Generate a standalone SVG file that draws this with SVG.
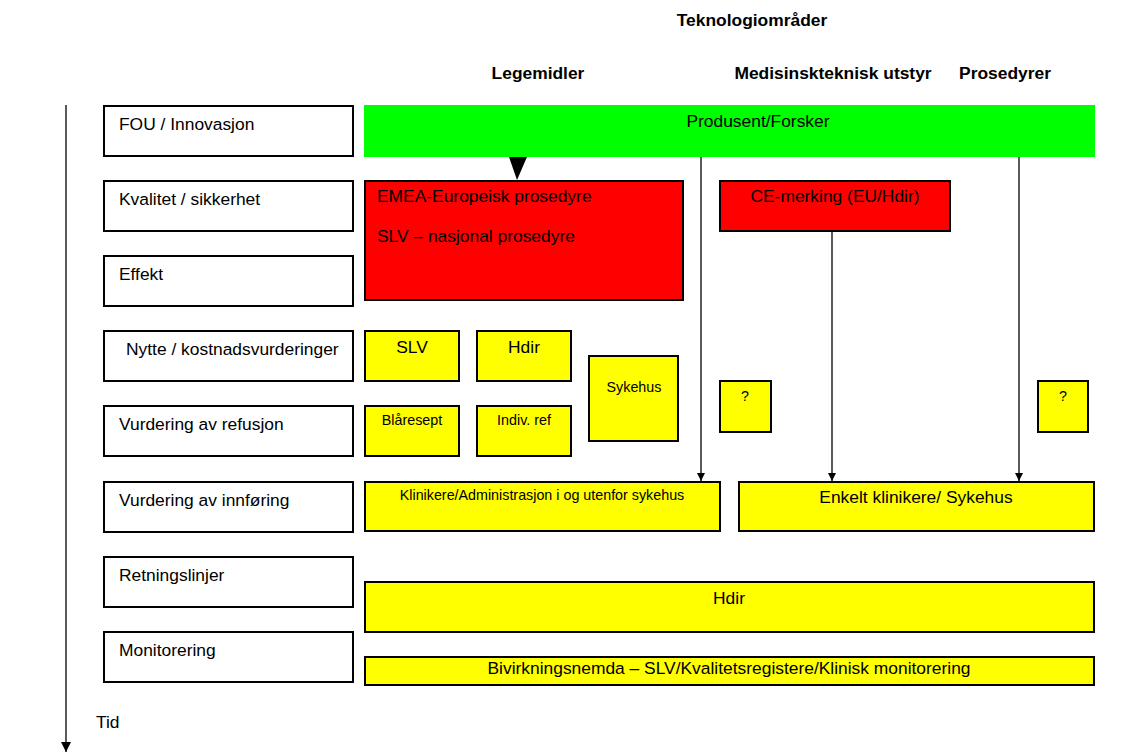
<svg xmlns="http://www.w3.org/2000/svg" width="1140" height="754" viewBox="0 0 1140 754">
<defs>
<style>
text{font-family:"Liberation Sans",Arial,sans-serif;fill:#000}
.lab{font-size:17.4px}
.hd{font-size:17.4px;font-weight:bold}
.sm{font-size:14.3px}
.box{fill:#fff;stroke:#000;stroke-width:2}
.red{fill:#ff0000;stroke:#000;stroke-width:2}
.yel{fill:#ffff00;stroke:#000;stroke-width:2}
.ln{stroke:#000;stroke-width:1.3;fill:none}
</style>
<marker id="ah" viewBox="0 0 10 10" refX="10" refY="5" markerWidth="8" markerHeight="8" markerUnits="userSpaceOnUse" orient="auto">
<path d="M0,0 L10,5 L0,10 z" fill="#000"/>
</marker>
<marker id="ah2" viewBox="0 0 10 10" refX="10" refY="5" markerWidth="10" markerHeight="10" markerUnits="userSpaceOnUse" orient="auto">
<path d="M0,0 L10,5 L0,10 z" fill="#000"/>
</marker>
</defs>
<rect width="1140" height="754" fill="#fff"/>

<g id="headers">
<text class="hd" x="752" y="26" text-anchor="middle">Teknologiområder</text>
<text class="hd" x="538" y="79" text-anchor="middle">Legemidler</text>
<text class="hd" x="833" y="79" text-anchor="middle">Medisinskteknisk utstyr</text>
<text class="hd" x="1005" y="79" text-anchor="middle">Prosedyrer</text>
</g>

<g id="connectors">
<line class="ln" x1="66" y1="105" x2="66" y2="752" marker-end="url(#ah2)"/>
<polygon points="509,157 527,157 517,180" fill="#000"/>
<line class="ln" x1="701" y1="157" x2="701" y2="481" marker-end="url(#ah)"/>
<line class="ln" x1="832" y1="231" x2="832" y2="481" marker-end="url(#ah)"/>
<line class="ln" x1="1019" y1="157" x2="1019" y2="481" marker-end="url(#ah)"/>
</g>

<g id="tid"><text class="lab" x="96" y="728">Tid</text></g>

<g id="row-fou"><rect class="box" x="104" y="106" width="249" height="50"/><text class="lab" x="119" y="130">FOU / Innovasjon</text></g>
<g id="row-kvalitet"><rect class="box" x="104" y="181" width="249" height="50"/><text class="lab" x="119" y="205">Kvalitet / sikkerhet</text></g>
<g id="row-effekt"><rect class="box" x="104" y="256" width="249" height="50"/><text class="lab" x="119" y="280">Effekt</text></g>
<g id="row-nytte"><rect class="box" x="104" y="331" width="249" height="50"/><text class="lab" x="126" y="355">Nytte / kostnadsvurderinger</text></g>
<g id="row-refusjon"><rect class="box" x="104" y="406" width="249" height="50"/><text class="lab" x="119" y="430">Vurdering av refusjon</text></g>
<g id="row-innforing"><rect class="box" x="104" y="482" width="249" height="50"/><text class="lab" x="119" y="506">Vurdering av innføring</text></g>
<g id="row-retningslinjer"><rect class="box" x="104" y="557" width="249" height="50"/><text class="lab" x="119" y="581">Retningslinjer</text></g>
<g id="row-monitorering"><rect class="box" x="104" y="632" width="249" height="50"/><text class="lab" x="119" y="656">Monitorering</text></g>

<g id="produsent"><rect x="364" y="105" width="731" height="52" fill="#00ff00"/><text class="lab" x="758" y="127" text-anchor="middle">Produsent/Forsker</text></g>

<g id="emea"><rect class="red" x="365" y="181" width="318" height="119"/>
<text class="lab" x="377" y="202">EMEA-Europeisk prosedyre</text>
<text class="lab" x="377" y="242">SLV – nasjonal prosedyre</text></g>
<g id="ce"><rect class="red" x="720" y="181" width="230" height="50"/><text class="lab" x="835" y="202" text-anchor="middle">CE-merking (EU/Hdir)</text></g>

<g id="slv"><rect class="yel" x="365" y="331" width="94" height="50"/><text class="lab" x="412" y="353" text-anchor="middle">SLV</text></g>
<g id="hdir1"><rect class="yel" x="477" y="331" width="94" height="50"/><text class="lab" x="524" y="353" text-anchor="middle">Hdir</text></g>
<g id="sykehus"><rect class="yel" x="589" y="356" width="89" height="85"/><text class="sm" x="634" y="392" text-anchor="middle">Sykehus</text></g>
<g id="blaresept"><rect class="yel" x="365" y="406" width="94" height="50"/><text class="sm" x="412" y="425" text-anchor="middle">Blåresept</text></g>
<g id="indiv"><rect class="yel" x="477" y="406" width="94" height="50"/><text class="sm" x="524" y="425" text-anchor="middle">Indiv. ref</text></g>
<g id="q1"><rect class="yel" x="720" y="381" width="51" height="51"/><text class="sm" x="745" y="401" text-anchor="middle">?</text></g>
<g id="q2"><rect class="yel" x="1038" y="381" width="50" height="51"/><text class="sm" x="1063" y="401" text-anchor="middle">?</text></g>

<g id="klinikere"><rect class="yel" x="365" y="482" width="355" height="49"/><text class="sm" x="542" y="500" text-anchor="middle">Klinikere/Administrasjon i og utenfor sykehus</text></g>
<g id="enkelt"><rect class="yel" x="739" y="482" width="355" height="49"/><text class="lab" x="916" y="503" text-anchor="middle">Enkelt klinikere/ Sykehus</text></g>
<g id="hdir2"><rect class="yel" x="365" y="582" width="729" height="50"/><text class="lab" x="729" y="604" text-anchor="middle">Hdir</text></g>
<g id="bivirkning"><rect class="yel" x="365" y="657" width="729" height="28"/><text class="lab" x="729" y="674" text-anchor="middle">Bivirkningsnemda – SLV/Kvalitetsregistere/Klinisk monitorering</text></g>
</svg>
